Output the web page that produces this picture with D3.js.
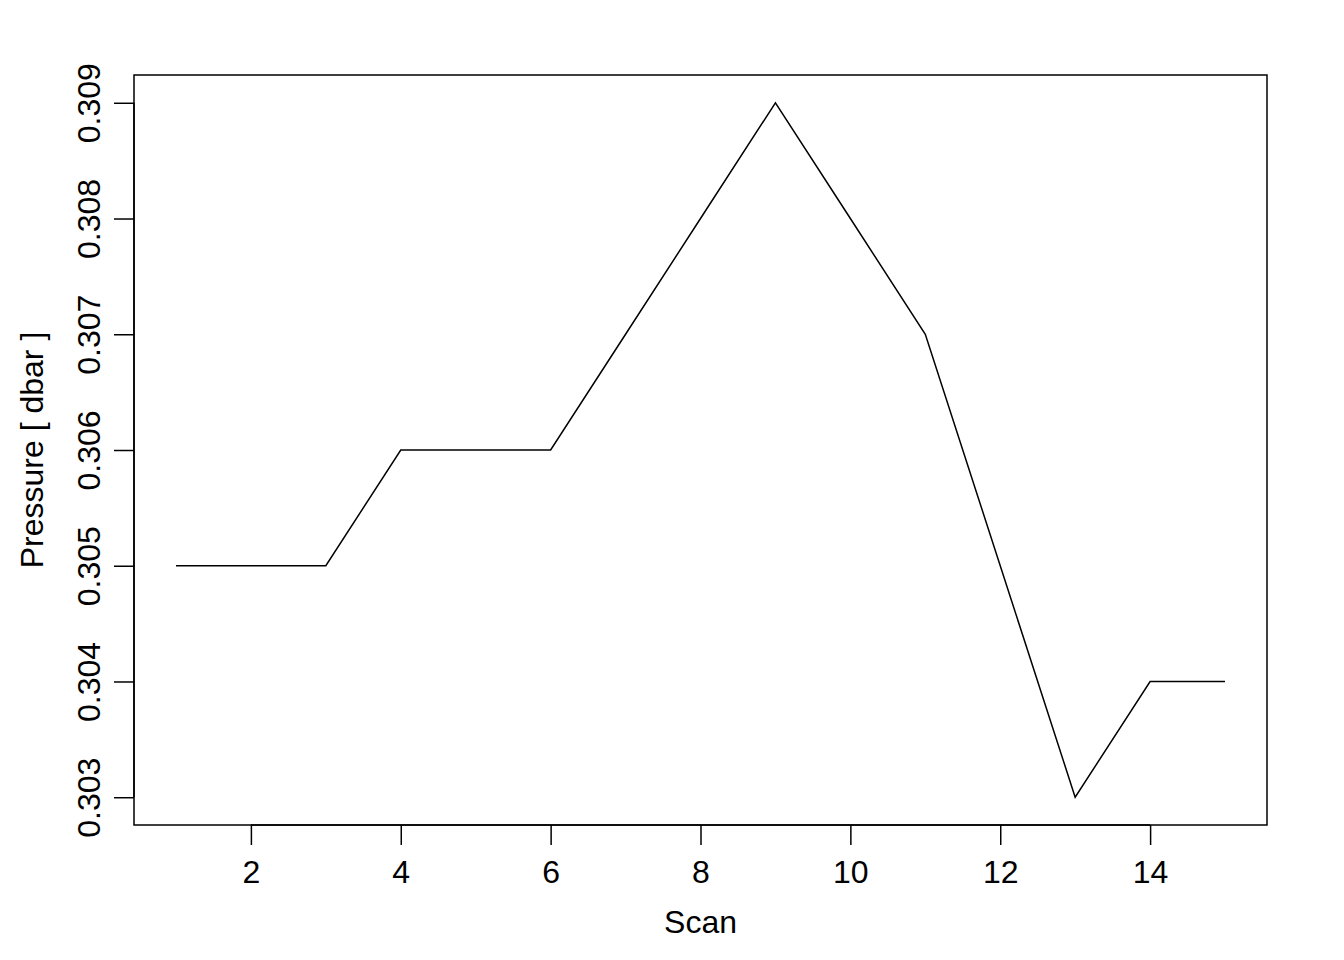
<!DOCTYPE html>
<html>
<head>
<meta charset="utf-8">
<script src="https://cdn.jsdelivr.net/npm/d3@7"></script>
<style>
  body { margin: 0; background: #fff; }
  text { font-family: "Liberation Sans", Arial, sans-serif; fill: #000; }
</style>
</head>
<body>
<div id="chart"></div>
<script>
const scans = [1, 2, 3, 4, 5, 6, 7, 8, 9, 10, 11, 12, 13, 14, 15]
const pressure = [0.305, 0.305, 0.305, 0.306, 0.306, 0.306, 0.307, 0.308, 0.309, 0.308, 0.307, 0.305, 0.303, 0.304, 0.304]
const xTicks = [2, 4, 6, 8, 10, 12, 14]
const yTicks = [0.303, 0.304, 0.305, 0.306, 0.307, 0.308, 0.309]

const width = 1344, height = 960
const box = { left: 134, right: 1267, top: 75, bottom: 825 }
const fontSize = 32
const tickLen = 20

const svg = d3.select('#chart').append('svg')
  .attr('width', width)
  .attr('height', height)

// R style: pad the data range by 4% on each side
const xr = d3.extent(scans), yr = d3.extent(pressure)
const xPad = (xr[1] - xr[0]) * 0.04, yPad = (yr[1] - yr[0]) * 0.04

const x = d3.scaleLinear()
  .domain([xr[0] - xPad, xr[1] + xPad])
  .range([box.left, box.right])

const y = d3.scaleLinear()
  .domain([yr[0] - yPad, yr[1] + yPad])
  .range([box.bottom, box.top])

// frame
svg.append('rect')
  .attr('x', box.left)
  .attr('y', box.top)
  .attr('width', box.right - box.left)
  .attr('height', box.bottom - box.top)
  .attr('fill', 'none')
  .attr('stroke', '#000')
  .attr('stroke-width', 1.5)

// x axis
const xAxis = svg.append('g')
  .attr('transform', `translate(0,${box.bottom})`)
  .call(d3.axisBottom(x).tickValues(xTicks).tickSize(tickLen).tickFormat(d3.format('d')))
xAxis.select('.domain')
  .attr('d', `M${x(xTicks[0])},0H${x(xTicks[xTicks.length - 1])}`)
  .attr('stroke-width', 1.5)
xAxis.selectAll('.tick line').attr('stroke-width', 1.5)
xAxis.selectAll('.tick text')
  .attr('y', 58)
  .attr('dy', null)
  .attr('font-size', fontSize)
  .attr('font-family', '"Liberation Sans", Arial, sans-serif')
  .attr('fill', '#000')

// y axis
const yAxis = svg.append('g')
  .attr('transform', `translate(${box.left},0)`)
  .call(d3.axisLeft(y).tickValues(yTicks).tickSize(tickLen).tickFormat(d3.format('.3f')))
yAxis.select('.domain')
  .attr('d', `M0,${y(yTicks[0])}V${y(yTicks[yTicks.length - 1])}`)
  .attr('stroke-width', 1.5)
yAxis.selectAll('.tick line').attr('stroke-width', 1.5)
yAxis.selectAll('.tick text')
  .attr('x', null)
  .attr('dy', null)
  .attr('text-anchor', 'middle')
  .attr('transform', 'translate(-34,0) rotate(-90)')
  .attr('font-size', fontSize)
  .attr('font-family', '"Liberation Sans", Arial, sans-serif')
  .attr('fill', '#000')

// the line
const line = d3.line()
  .x((d, i) => x(scans[i]))
  .y(d => y(d))

svg.append('path')
  .datum(pressure)
  .attr('d', line)
  .attr('fill', 'none')
  .attr('stroke', '#000')
  .attr('stroke-width', 1.5)

// axis titles
svg.append('text')
  .attr('x', (box.left + box.right) / 2)
  .attr('y', 933)
  .attr('text-anchor', 'middle')
  .attr('font-size', fontSize)
  .text('Scan')

svg.append('text')
  .attr('transform', `translate(43,${(box.top + box.bottom) / 2}) rotate(-90)`)
  .attr('text-anchor', 'middle')
  .attr('font-size', fontSize)
  .text('Pressure [ dbar ]')
</script>
</body>
</html>
